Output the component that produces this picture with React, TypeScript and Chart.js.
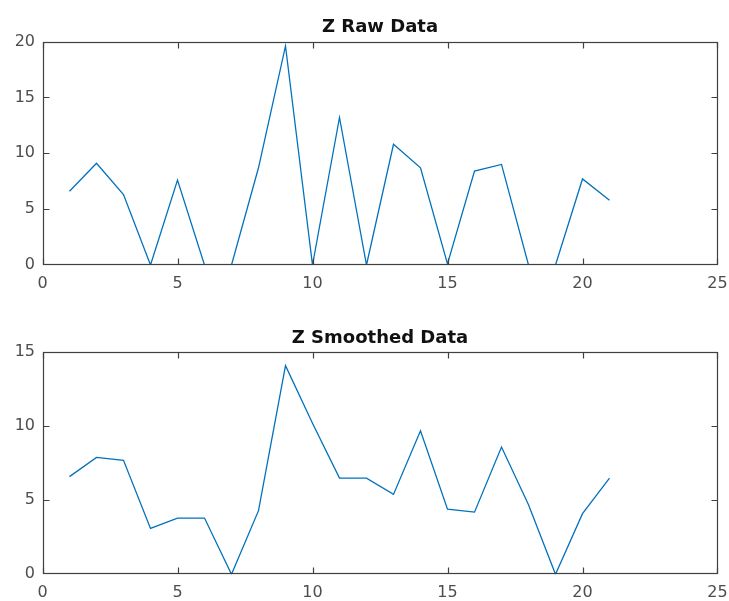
import React, { useEffect, useRef } from "react";
import { Chart, registerables } from "chart.js";

Chart.register(...registerables);

const xValues = [1, 2, 3, 4, 5, 6, 7, 8, 9, 10, 11, 12, 13, 14, 15, 16, 17, 18, 19, 20, 21];
const rawValues = [6.6, 9.1, 6.3, 0, 7.6, 0, 0, 8.7, 19.6, 0, 13.2, 0, 10.8, 8.7, 0.1, 8.4, 9.0, 0, 0, 7.7, 5.8];
const smoothValues = [6.6, 7.9, 7.7, 3.1, 3.8, 3.8, 0, 4.3, 14.1, 10.2, 6.5, 6.5, 5.4, 9.7, 4.4, 4.2, 8.6, 4.7, 0, 4.1, 6.5];
const xTickStep = 5;
const xMin = 0;
const xMax = 25;
const rawYMax = 20;
const smoothYMax = 15;
const yTickStep = 5;
const rawTitle = "Z Raw Data";
const smoothTitle = "Z Smoothed Data";

const LINE_COLOR = "#0072BD";
const AXIS_COLOR = "#404040";
const LABEL_COLOR = "#4d4d4d";
const FONT = "'DejaVu Sans', sans-serif";

const boxPlugin = {
  id: "matlabBox",
  afterDatasetsDraw(chart: any) {
    const { ctx, chartArea, scales } = chart;
    const { left, right, top, bottom } = chartArea;
    ctx.save();
    ctx.strokeStyle = AXIS_COLOR;
    ctx.lineWidth = 1.2;
    const L = Math.round(left) + 0.5;
    const R = Math.round(right) - 0.5;
    const T = Math.round(top) + 0.5;
    const B = Math.round(bottom) - 0.5;
    ctx.strokeRect(L, T, R - L, B - T);
    const tl = 6;
    ctx.beginPath();
    scales.x.ticks.forEach((t: any) => {
      const px = Math.min(Math.round(scales.x.getPixelForValue(t.value)) + 0.5, R);
      ctx.moveTo(px, B);
      ctx.lineTo(px, B - tl);
      ctx.moveTo(px, T);
      ctx.lineTo(px, T + tl);
    });
    scales.y.ticks.forEach((t: any) => {
      const py = Math.min(Math.max(Math.round(scales.y.getPixelForValue(t.value)) + 0.5, T), B);
      ctx.moveTo(L, py);
      ctx.lineTo(L + tl, py);
      ctx.moveTo(R, py);
      ctx.lineTo(R - tl, py);
    });
    ctx.stroke();
    ctx.restore();
  },
};

function makeConfig(
  values: number[],
  yMax: number,
  title: string,
  titlePadTop: number,
  titlePadBottom: number,
  xAxisHeight: number
) {
  const points = xValues.map((x, i) => ({ x, y: values[i] }));
  return {
    type: "line" as const,
    data: {
      datasets: [
        {
          data: points,
          borderColor: LINE_COLOR,
          backgroundColor: LINE_COLOR,
          borderWidth: 1.3,
          pointRadius: 0,
          tension: 0,
          fill: false,
        },
      ],
    },
    options: {
      animation: false as const,
      responsive: false,
      devicePixelRatio: 1,
      events: [],
      layout: { padding: { left: 0, right: 11.5, top: 0, bottom: 0 } },
      plugins: {
        legend: { display: false },
        tooltip: { enabled: false },
        title: {
          display: true,
          fullSize: false,
          text: title,
          color: "#111",
          font: { family: FONT, size: 18, weight: "bold" as const, lineHeight: 1.2 },
          padding: { top: titlePadTop, bottom: titlePadBottom },
        },
      },
      scales: {
        x: {
          type: "linear" as const,
          min: xMin,
          max: xMax,
          grid: { display: false, drawTicks: false },
          border: { display: false },
          ticks: {
            stepSize: xTickStep,
            color: LABEL_COLOR,
            padding: 8.8,
            maxRotation: 0,
            font: { family: FONT, size: 16, lineHeight: 1.2 },
          },
          afterFit(scale: any) {
            scale.height = xAxisHeight;
            scale.paddingLeft = 0;
            scale.paddingRight = 0;
          },
        },
        y: {
          type: "linear" as const,
          min: 0,
          max: yMax,
          grid: { display: false, drawTicks: false },
          border: { display: false },
          ticks: {
            stepSize: yTickStep,
            color: LABEL_COLOR,
            padding: 7.5,
            font: { family: FONT, size: 16, lineHeight: 1.2 },
          },
          afterFit(scale: any) {
            scale.width = 42.5;
            scale.paddingTop = 0;
            scale.paddingBottom = 0;
          },
        },
      },
    },
    plugins: [boxPlugin],
  };
}

function ChartCanvas(props: {
  values: number[];
  yMax: number;
  title: string;
  padTop: number;
  padBottom: number;
  xAxisHeight: number;
  top: number;
  height: number;
}) {
  const ref = useRef<HTMLCanvasElement | null>(null);
  useEffect(() => {
    if (!ref.current) return;
    const chart = new Chart(
      ref.current,
      makeConfig(props.values, props.yMax, props.title, props.padTop, props.padBottom, props.xAxisHeight) as any
    );
    return () => chart.destroy();
  }, []);
  return (
    <canvas
      ref={ref}
      width={729}
      height={props.height}
      style={{ position: "absolute", left: 0, top: props.top, width: 729, height: props.height, display: "block" }}
    />
  );
}

export default function App() {
  return (
    <div style={{ position: "absolute", left: 0, top: 0, width: 729, height: 601, background: "#fff", overflow: "hidden" }}>
      <ChartCanvas values={rawValues} yMax={rawYMax} title={rawTitle} padTop={16.7} padBottom={3.2} xAxisHeight={35} top={0} height={300} />
      <ChartCanvas values={smoothValues} yMax={smoothYMax} title={smoothTitle} padTop={27.5} padBottom={3.2} xAxisHeight={26.7} top={300} height={301} />
    </div>
  );
}
